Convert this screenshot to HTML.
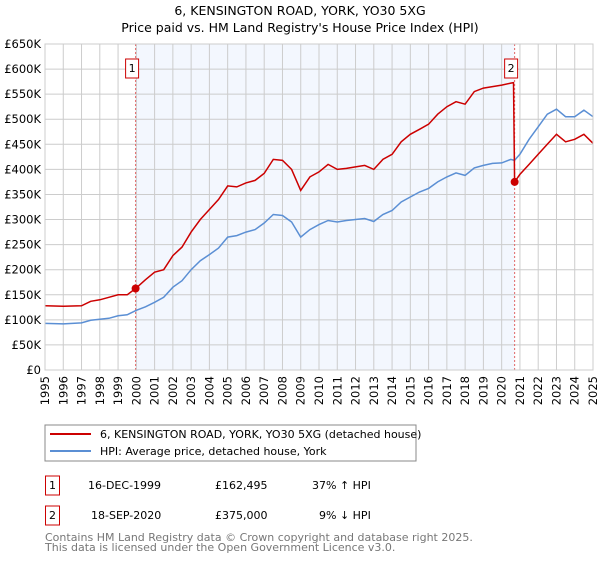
<!DOCTYPE html>
<html><head><meta charset="utf-8"><style>
body{margin:0;background:#fff;font-family:"DejaVu Sans","Liberation Sans",sans-serif;}
svg text{font-family:"DejaVu Sans","Liberation Sans",sans-serif;}
</style></head><body>
<svg id="c" width="600" height="560" xmlns="http://www.w3.org/2000/svg">
<text x="300" y="15" font-size="12.5" text-anchor="middle">6, KENSINGTON ROAD, YORK, YO30 5XG</text>
<text x="300" y="32" font-size="12.5" text-anchor="middle">Price paid vs. HM Land Registry's House Price Index (HPI)</text>
<g id="grid"></g><g id="series"></g><g id="axes"></g>
<rect x="45" y="425" width="371" height="36" fill="#fff" stroke="#888"/>
<line x1="50" y1="434" x2="91" y2="434" stroke="#cc0000" stroke-width="2"/>
<text x="100" y="438" font-size="11">6, KENSINGTON ROAD, YORK, YO30 5XG (detached house)</text>
<line x1="50" y1="451" x2="91" y2="451" stroke="#5b8fd4" stroke-width="2"/>
<text x="100" y="455" font-size="11">HPI: Average price, detached house, York</text>
<g>
<rect x="45.5" y="476" width="14" height="19" fill="none" stroke="#cc0000"/>
<text x="52.5" y="489" font-size="11" text-anchor="middle">1</text>
<text x="88" y="489" font-size="11">16-DEC-1999</text>
<text x="215" y="489" font-size="11">£162,495</text>
<text x="312" y="489" font-size="11">37% ↑ HPI</text></g>
<g>
<rect x="45.5" y="506" width="14" height="19" fill="none" stroke="#cc0000"/>
<text x="52.5" y="519" font-size="11" text-anchor="middle">2</text>
<text x="91" y="519" font-size="11">18-SEP-2020</text>
<text x="215" y="519" font-size="11">£375,000</text>
<text x="319" y="519" font-size="11">9% ↓ HPI</text></g>
<text x="45" y="541" font-size="11" fill="#777">Contains HM Land Registry data © Crown copyright and database right 2025.</text>
<text x="45" y="551" font-size="11" fill="#777">This data is licensed under the Open Government Licence v3.0.</text>
</svg>
<script>
const years=[1995,1996,1997,1998,1999,2000,2001,2002,2003,2004,2005,2006,2007,2008,2009,2010,2011,2012,2013,2014,2015,2016,2017,2018,2019,2020,2021,2022,2023,2024,2025];
const yTicks=[0,50,100,150,200,250,300,350,400,450,500,550,600,650];
const hpiT=[1995,1996,1997,1997.5,1998,1998.5,1999,1999.5,2000,2000.5,2001,2001.5,2002,2002.5,2003,2003.5,2004,2004.5,2005,2005.5,2006,2006.5,2007,2007.5,2008,2008.5,2009,2009.5,2010,2010.5,2011,2011.5,2012,2012.5,2013,2013.5,2014,2014.5,2015,2015.5,2016,2016.5,2017,2017.5,2018,2018.5,2019,2019.5,2020,2020.5,2020.7,2021,2021.5,2022,2022.5,2023,2023.5,2024,2024.5,2025];
const hpiV=[93,92,94,99,101,103,108,110,119,126,135,145,165,178,200,218,230,243,265,268,275,280,293,310,308,295,265,280,290,298,295,298,300,302,296,310,318,335,345,355,362,375,385,393,388,403,408,412,413,420,418,430,460,485,510,520,505,505,518,505];
const redT=[1995,1996,1997,1997.5,1998,1998.5,1999,1999.5,1999.96,2000.5,2001,2001.5,2002,2002.5,2003,2003.5,2004,2004.5,2005,2005.5,2006,2006.5,2007,2007.5,2008,2008.5,2009,2009.5,2010,2010.5,2011,2011.5,2012,2012.5,2013,2013.5,2014,2014.5,2015,2015.5,2016,2016.5,2017,2017.5,2018,2018.5,2019,2019.5,2020,2020.5,2020.65,2020.71,2021,2021.5,2022,2022.5,2023,2023.5,2024,2024.5,2025];
const redV=[128,127,128,137,140,145,150,150,162.5,180,195,200,228,245,275,300,320,340,367,365,373,378,392,420,418,400,358,385,395,410,400,402,405,408,400,420,430,455,470,480,490,510,525,535,530,555,562,565,568,572,573,375,390,410,430,450,470,455,460,470,452];
const sales=[{t:1999.96,v:162.495,n:"1"},{t:2020.71,v:375,n:"2"}];
const X=t=>45+(t-1995)*548/30, Y=v=>370-v*326/650;
const NS="http://www.w3.org/2000/svg";
function mk(p,tag,a){const e=document.createElementNS(NS,tag);for(const k in a)e.setAttribute(k,a[k]);document.getElementById(p).appendChild(e);return e;}
let r=mk('grid','rect',{x:X(sales[0].t),y:44,width:X(sales[1].t)-X(sales[0].t),height:326,fill:'#f3f7fe'});


yTicks.forEach(v=>{const l=mk('grid','line',{x1:45,x2:593,y1:Y(v),y2:Y(v),stroke:'#cccccc'});


const t=mk('axes','text',{x:41,y:Y(v)+4,'font-size':11.5,'text-anchor':'end'});t.textContent=v?'£'+v+'K':'£0';

});
years.forEach(y=>{const l=mk('grid','line',{x1:X(y),x2:X(y),y1:44,y2:370,stroke:'#cccccc'});


const t=mk('axes','text',{x:0,y:0,'font-size':11.5,'text-anchor':'end',transform:`translate(${X(y)+4},376) rotate(-90)`});t.textContent=y;

});
sales.forEach(s=>{const l=mk('grid','line',{x1:X(s.t),x2:X(s.t),y1:44,y2:370,stroke:'#e06666','stroke-dasharray':'2,2'});

});
const path=(T,V)=>T.map((t,i)=>(i?'L':'M')+X(t).toFixed(1)+','+Y(V[i]).toFixed(1)).join('');
let p=mk('series','path',{d:path(hpiT,hpiV),fill:'none',stroke:'#5b8fd4','stroke-width':1.5});


p=mk('series','path',{d:path(redT,redV),fill:'none',stroke:'#cc0000','stroke-width':1.5});


sales.forEach(s=>{const c=mk('series','circle',{cx:X(s.t),cy:Y(s.v),r:4,fill:'#cc0000'});


const b=mk('series','rect',{x:X(s.t)-10,y:59,width:13,height:19,fill:'#fff',stroke:'#cc0000'});


const t=mk('series','text',{x:X(s.t)-3.5,y:72,'font-size':11,'text-anchor':'middle'});t.textContent=s.n;

});
const ax=mk('axes','rect',{x:45,y:44,width:548,height:326,fill:'none',stroke:'#cccccc'});


</script>
</body></html>
